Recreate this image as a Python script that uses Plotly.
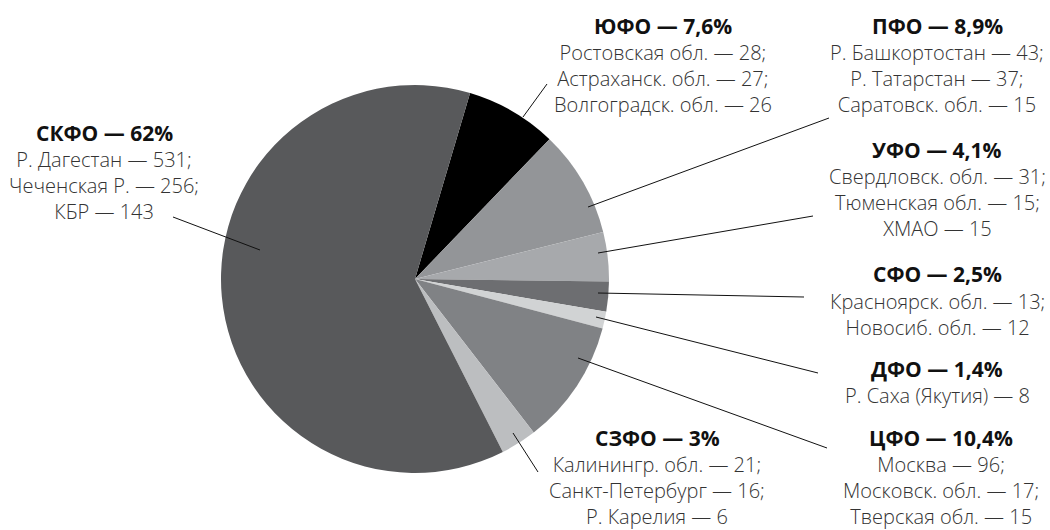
import plotly.graph_objects as go

W, H = 1050, 530

districts = ["ЮФО", "ПФО", "УФО", "СФО", "ДФО", "ЦФО", "СЗФО", "СКФО"]
shares = [7.6, 8.9, 4.1, 2.5, 1.4, 10.4, 3, 62]
share_labels = ["7,6%", "8,9%", "4,1%", "2,5%", "1,4%", "10,4%", "3%", "62%"]
regions = [
    ["Ростовская обл. — 28;", "Астраханск. обл. — 27;", "Волгоградск. обл. — 26"],
    ["Р. Башкортостан — 43;", "Р. Татарстан — 37;", "Саратовск. обл. — 15"],
    ["Свердловск. обл. — 31;", "Тюменская обл. — 15;", "ХМАО — 15"],
    ["Красноярск. обл. — 13;", "Новосиб. обл. — 12"],
    ["Р. Саха (Якутия) — 8"],
    ["Москва — 96;", "Московск. обл. — 17;", "Тверская обл. — 15"],
    ["Калинингр. обл. — 21;", "Санкт-Петербург — 16;", "Р. Карелия — 6"],
    ["Р. Дагестан — 531;", "Чеченская Р. — 256;", "КБР — 143"],
]
colors = ["#000000", "#939598", "#a7a9ac", "#6d6e71", "#d1d3d4", "#808285", "#bcbec0", "#58595b"]

# label block positions (pixel centre x, header centre y)
label_pos = [(663, 25.5), (937, 25.5), (937, 149.5), (937, 274),
             (937, 369), (941, 437.5), (657, 437.5), (104, 132.5)]
# leader lines in pixels
leaders = [((523, 117), (547, 84)), ((588, 207), (829, 118)), ((598, 253), (813, 216)),
           ((598, 293), (804, 297)), ((596, 317), (818, 373)), ((578, 358), (827, 448)),
           ((513, 433), (538, 472)), ((260, 250), (173, 217))]

FONT = "Open Sans"
BODY_SIZE = 20
LINE_H = 1.3 * BODY_SIZE


def px(x):
    return x / W


def py(y):
    return 1 - y / H


fig = go.Figure(go.Pie(
    labels=districts, values=shares, sort=False, direction="clockwise",
    rotation=16.5, marker=dict(colors=colors, line=dict(width=0)),
    textinfo="none", hoverinfo="label+percent", showlegend=False,
    domain=dict(x=[px(221), px(609)], y=[py(473), py(85)]),
))

annotations = []
shapes = []
for d, s, regs, (cx, cy), (p0, p1) in zip(districts, share_labels, regions, label_pos, leaders):
    annotations.append(dict(
        x=px(cx), y=py(cy), xref="paper", yref="paper", xanchor="center", yanchor="middle",
        text=f"<b>{d} — {s}</b>", showarrow=False, borderpad=0, borderwidth=0,
        font=dict(family=FONT, size=21, color="#111111"),
    ))
    first = cy + 27
    block_mid = first + LINE_H * (len(regs) - 1) / 2
    annotations.append(dict(
        x=px(cx), y=py(block_mid), xref="paper", yref="paper",
        xanchor="center", yanchor="middle", align="center",
        text="<br>".join(regs), showarrow=False, borderpad=0, borderwidth=0,
        font=dict(family=FONT, size=BODY_SIZE, color="#333333", weight=300),
    ))
    shapes.append(dict(type="line", xref="paper", yref="paper",
                       x0=px(p0[0]), y0=py(p0[1]), x1=px(p1[0]), y1=py(p1[1]),
                       line=dict(color="#111111", width=1)))

fig.update_layout(
    width=W, height=H, margin=dict(l=0, r=0, t=0, b=0),
    paper_bgcolor="white", plot_bgcolor="white",
    annotations=annotations, shapes=shapes,
)

fig.write_html("out.html", config={"displayModeBar": False},
               post_script="document.body.style.margin='0';")
